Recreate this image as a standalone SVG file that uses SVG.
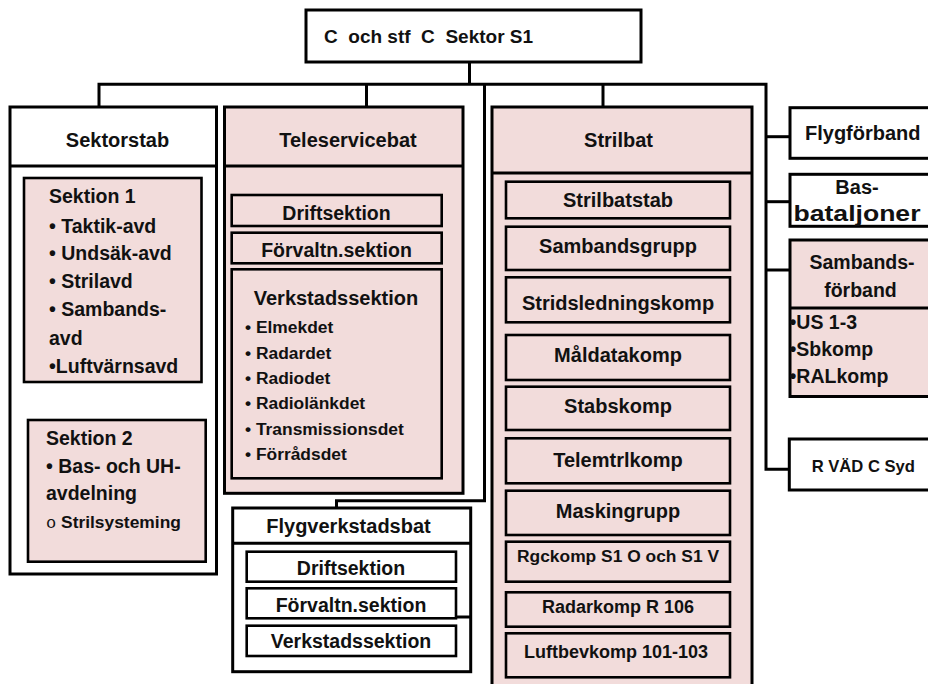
<svg xmlns="http://www.w3.org/2000/svg" width="928" height="684" viewBox="0 0 928 684">
  <style>
    .box { fill: #ffffff; stroke: #000; stroke-width: 3; }
    .pink { fill: #f2dcdb; stroke: #000; stroke-width: 3; }
    .sub { fill: #f2dcdb; stroke: #000; stroke-width: 2.6; }
    .subw { fill: #ffffff; stroke: #000; stroke-width: 2.6; }
    .div { stroke: #000; stroke-width: 3; fill: none; }
    .wire { stroke: #000; stroke-width: 3; fill: none; }
    text { font-family: "Liberation Sans", Arial, sans-serif; font-weight: bold; fill: #111; }
    .t20 { font-size: 20px; }
    .t19 { font-size: 19.5px; }
    .t18 { font-size: 18px; }
    .t17 { font-size: 17.4px; }
    .c { text-anchor: middle; }
    .pre { white-space: pre; }
  </style>

  <!-- connectors -->
  <g id="connectors">
    <path class="wire" d="M469.5,62 V84.3"/>
    <path class="wire" d="M99,107 V84.3 H766 V469.3 H790"/>
    <path class="wire" d="M366.5,84.3 V107"/>
    <path class="wire" d="M603,84.3 V107"/>
    <path class="wire" d="M484.5,84.3 V500.7 H336.5 V508"/>
    <path class="wire" d="M766,136.7 H790"/>
    <path class="wire" d="M766,201.7 H790"/>
    <path class="wire" d="M766,270 H790"/>
  </g>

  <!-- top command -->
  <g id="chef">
    <rect class="box" x="306" y="10" width="335" height="52"/>
    <text class="pre" x="324" y="43" font-size="19">C  och stf  C  Sektor S1</text>
  </g>

  <!-- Sektorstab -->
  <g id="sektorstab">
    <rect class="box" x="10" y="107" width="206.5" height="467"/>
    <line class="div" x1="10" y1="166" x2="216.5" y2="166"/>
    <text class="t20 c" x="117.5" y="147">Sektorstab</text>
    <g id="sektion1">
      <rect class="sub" x="24" y="178" width="177.5" height="204"/>
      <text class="t19" x="49" y="203">Sektion 1</text>
      <text class="t19" x="49" y="232.5">• Taktik-avd</text>
      <text class="t19" x="49" y="260">• Undsäk-avd</text>
      <text class="t19" x="49" y="288">• Strilavd</text>
      <text class="t19" x="49" y="315.5">• Sambands-</text>
      <text class="t19" x="49" y="345">avd</text>
      <text class="t19" x="49" y="373">•Luftvärnsavd</text>
    </g>
    <g id="sektion2">
      <rect class="sub" x="28" y="420" width="177.7" height="141.7"/>
      <text class="t19" x="46" y="445">Sektion 2</text>
      <text class="t19" x="46" y="473.3">• Bas- och UH-</text>
      <text class="t19" x="46" y="500">avdelning</text>
      <text class="t17" x="46" y="528.3"><tspan font-family="'Liberation Mono', monospace" font-weight="normal" font-size="17">o</tspan> Strilsysteming</text>
    </g>
  </g>

  <!-- Teleservicebat -->
  <g id="teleservicebat">
    <rect class="pink" x="224.5" y="107" width="238.5" height="386.3"/>
    <line class="div" x1="224.5" y1="166" x2="463" y2="166"/>
    <text class="t20 c" x="348" y="147">Teleservicebat</text>
    <g id="tsb-drift">
      <rect class="sub" x="231.7" y="195" width="210" height="31"/>
      <text class="t19 c" x="336.5" y="219.5">Driftsektion</text>
    </g>
    <g id="tsb-forvaltn">
      <rect class="sub" x="231.7" y="232.7" width="210" height="30.6"/>
      <text class="t19 c" x="336.5" y="256.5">Förvaltn.sektion</text>
    </g>
    <g id="tsb-verkstad">
      <rect class="sub" x="231.7" y="269.3" width="210" height="209"/>
      <text class="t20 c" x="336" y="305">Verkstadssektion</text>
      <text class="t17" x="245" y="333.3">• Elmekdet</text>
      <text class="t17" x="245" y="359">• Radardet</text>
      <text class="t17" x="245" y="384">• Radiodet</text>
      <text class="t17" x="245" y="409.3">• Radiolänkdet</text>
      <text class="t17" x="245" y="435">• Transmissionsdet</text>
      <text class="t17" x="245" y="460">• Förrådsdet</text>
    </g>
  </g>

  <!-- Flygverkstadsbat -->
  <g id="flygverkstadsbat">
    <rect class="box" x="232.7" y="508" width="238" height="163.7"/>
    <line class="div" x1="232.7" y1="543.3" x2="470.7" y2="543.3"/>
    <text class="t20 c" x="348.5" y="533.3">Flygverkstadsbat</text>
    <g id="fvb-drift">
      <rect class="subw" x="246.7" y="551.7" width="209.3" height="30"/>
      <text class="t19 c" x="351" y="575">Driftsektion</text>
    </g>
    <g id="fvb-forvaltn">
      <rect class="subw" x="246.7" y="588.3" width="209.3" height="30"/>
      <line class="div" x1="456" y1="617" x2="470.7" y2="617" stroke-width="2.6"/>
      <text class="t19 c" x="351" y="611.7">Förvaltn.sektion</text>
    </g>
    <g id="fvb-verkstad">
      <rect class="subw" x="246.7" y="625.7" width="209.3" height="30.3"/>
      <text class="t19 c" x="351" y="648.3">Verkstadssektion</text>
    </g>
  </g>

  <!-- Strilbat -->
  <g id="strilbat">
    <rect class="pink" x="492" y="107" width="260" height="600"/>
    <line class="div" x1="492" y1="173" x2="752" y2="173"/>
    <text class="t20 c" x="618.5" y="147">Strilbat</text>
    <g id="strilbatstab">
      <rect class="sub" x="506" y="181.7" width="224" height="36.6"/>
      <text class="t20 c" x="618" y="206.5">Strilbatstab</text>
    </g>
    <g id="sambandsgrupp">
      <rect class="sub" x="506" y="226.7" width="224" height="43.3"/>
      <text class="t20 c" x="618" y="252.5">Sambandsgrupp</text>
    </g>
    <g id="stridsledningskomp">
      <rect class="sub" x="506" y="277.3" width="224" height="45"/>
      <text class="t20 c" x="618" y="310">Stridsledningskomp</text>
    </g>
    <g id="maldatakomp">
      <rect class="sub" x="506" y="335" width="224" height="45"/>
      <text class="t20 c" x="618" y="361.5">Måldatakomp</text>
    </g>
    <g id="stabskomp">
      <rect class="sub" x="506" y="386.7" width="224" height="43.3"/>
      <text class="t20 c" x="618" y="413">Stabskomp</text>
    </g>
    <g id="telemtrlkomp">
      <rect class="sub" x="506" y="438.3" width="224" height="45"/>
      <text class="t20 c" x="618" y="466.5">Telemtrlkomp</text>
    </g>
    <g id="maskingrupp">
      <rect class="sub" x="506" y="490.7" width="224" height="44.3"/>
      <text class="t20 c" x="618" y="518">Maskingrupp</text>
    </g>
    <g id="rgckomp">
      <rect class="sub" x="506" y="541.7" width="224" height="40"/>
      <text class="t17 c" x="618" y="561.5">Rgckomp S1 O och S1 V</text>
    </g>
    <g id="radarkomp">
      <rect class="sub" x="506" y="592.3" width="224" height="34.4"/>
      <text class="t18 c" x="618" y="613.3">Radarkomp R 106</text>
    </g>
    <g id="luftbevkomp">
      <rect class="sub" x="506" y="633.3" width="224" height="44"/>
      <text class="t18 c" x="616" y="658.3">Luftbevkomp 101-103</text>
    </g>
  </g>

  <!-- right-hand units -->
  <g id="flygforband">
    <rect class="box" x="790" y="107.7" width="150" height="50.6"/>
    <text class="t20" x="805" y="140">Flygförband</text>
  </g>
  <g id="basbataljoner">
    <rect class="box" x="790" y="174.3" width="150" height="52"/>
    <text class="t20 c" x="857" y="194">Bas-</text>
    <text x="793.5" y="221" font-size="22" textLength="127" lengthAdjust="spacingAndGlyphs">bataljoner</text>
  </g>
  <g id="sambandsforband">
    <rect class="pink" x="790" y="240" width="150" height="156.5"/>
    <line class="div" x1="790" y1="308" x2="940" y2="308"/>
    <text class="t19 c" x="862" y="269">Sambands-</text>
    <text class="t19 c" x="860.5" y="297">förband</text>
    <text class="t19" x="789.5" y="329">•US 1-3</text>
    <text class="t19" x="789.5" y="356">•Sbkomp</text>
    <text class="t19" x="789.5" y="383">•RALkomp</text>
  </g>
  <g id="rvad">
    <rect class="box" x="789.3" y="439" width="150" height="51"/>
    <text x="811.7" y="471.7" font-size="16.6">R VÄD C Syd</text>
  </g>
</svg>
